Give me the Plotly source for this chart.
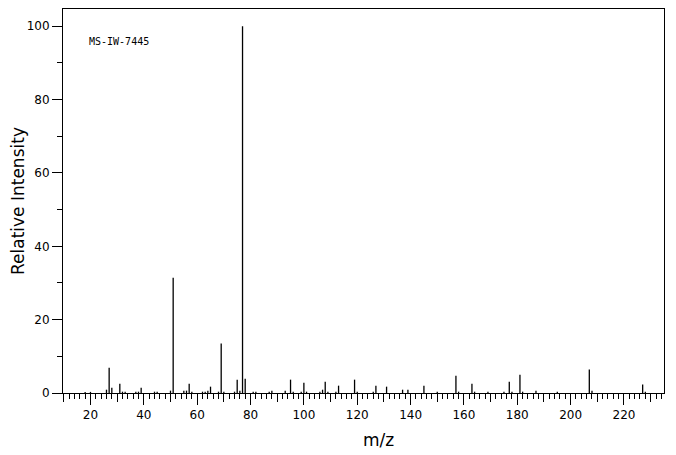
import plotly.graph_objects as go

# Mass spectrum peaks (m/z, relative intensity)
mz = [18, 20, 26, 27, 28, 31, 32, 33, 37, 38, 39, 44, 45, 50, 51, 55, 56, 57, 58,
      62, 63, 64, 65, 68, 69, 70, 74, 75, 76, 77, 78, 81, 82, 87, 88, 93, 95, 96,
      99, 100, 101, 106, 107, 108, 109, 112, 113, 119, 120, 126, 127, 131, 137,
      139, 145, 150, 157, 158, 163, 164, 169, 175, 177, 178, 181, 182, 187, 195,
      207, 208, 227, 228]
intensity = [0.3, 0.3, 0.9, 6.9, 1.45, 2.55, 0.36, 0.36, 0.36, 0.36, 1.45, 0.36, 0.36,
             0.64, 31.4, 0.64, 0.64, 2.55, 0.36, 0.36, 0.36, 0.64, 1.73, 0.36, 13.5,
             0.36, 0.36, 3.64, 0.64, 100, 3.9, 0.36, 0.36, 0.36, 0.64, 0.64, 3.64,
             0.36, 0.36, 2.8, 0.36, 0.36, 0.9, 3.1, 0.36, 0.36, 2.0, 3.64, 0.36, 0.36,
             2.0, 1.73, 0.9, 0.9, 2.0, 0.36, 4.7, 0.36, 2.55, 0.36, 0.36, 0.36, 3.1,
             0.36, 5.0, 0.36, 0.64, 0.36, 6.4, 0.64, 2.3, 0.36]

x_labels = [20, 40, 60, 80, 100, 120, 140, 160, 180, 200, 220]
y_labels = [0, 20, 40, 60, 80, 100]
spectrum_id = "MS-IW-7445"

# Build stick spectrum as one line trace with gaps
xs, ys = [], []
for m, h in zip(mz, intensity):
    xs += [m, m, None]
    ys += [0, h, None]

fig = go.Figure()
fig.add_trace(go.Scatter(x=xs, y=ys, mode="lines",
                         line=dict(color="black", width=1.3),
                         hoverinfo="skip", showlegend=False))
# empty trace to activate the overlay axis (medium ticks every 10)
fig.add_trace(go.Scatter(x=[None], y=[None], xaxis="x2", showlegend=False,
                         hoverinfo="skip"))

font_main = "DejaVu Sans"
xr = [9.7, 235]

# the page body has an 8px default margin, so the figure is sized to compensate
fig.update_layout(
    width=668, height=447,
    margin=dict(l=55, r=12, t=1, b=62, autoexpand=False),
    paper_bgcolor="white", plot_bgcolor="white",
    font=dict(family=font_main, color="black", size=12),
    xaxis=dict(
        range=xr, showgrid=False, zeroline=False, automargin=False,
        showline=True, mirror=True, linecolor="black", linewidth=1,
        tickmode="array", tickvals=x_labels, ticktext=[str(v) for v in x_labels],
        ticks="outside", ticklen=11, tickwidth=1, tickcolor="black",
        tickfont=dict(family=font_main, size=12),
        minor=dict(dtick=2, tick0=0, ticks="outside", ticklen=5,
                   tickwidth=1, tickcolor="black", showgrid=False),
    ),
    xaxis2=dict(
        range=xr, overlaying="x", anchor="y", side="bottom", automargin=False,
        showgrid=False, zeroline=False, showline=False,
        tick0=0, dtick=10, ticks="outside", ticklen=8, tickwidth=1,
        tickcolor="black", showticklabels=False,
    ),
    yaxis=dict(
        range=[0, 104.7], showgrid=False, zeroline=False, automargin=False,
        showline=True, mirror=True, linecolor="black", linewidth=1,
        tickmode="array", tickvals=y_labels, ticktext=[str(v) for v in y_labels],
        ticks="outside", ticklen=10, tickwidth=1, tickcolor="black",
        tickfont=dict(family=font_main, size=12),
        minor=dict(dtick=10, tick0=0, ticks="outside", ticklen=5,
                   tickwidth=1, tickcolor="black", showgrid=False),
    ),
    annotations=[
        dict(text=spectrum_id, xref="paper", yref="paper",
             x=(86.5 - 63) / 601, y=(393.3 - 41.5) / 384,
             xanchor="left", yanchor="middle", showarrow=False,
             font=dict(family="DejaVu Sans Mono", size=10, color="black")),
        dict(text="m/z", xref="paper", yref="paper",
             x=(378 - 63) / 601, y=(393.3 - 440) / 384,
             xanchor="center", yanchor="middle", showarrow=False,
             font=dict(family=font_main, size=17, color="black")),
        dict(text="Relative Intensity", xref="paper", yref="paper",
             x=(18 - 63) / 601, y=0.5, textangle=-90,
             xanchor="center", yanchor="middle", showarrow=False,
             font=dict(family=font_main, size=17, color="black")),
    ],
)

fig.write_html("out.html")
